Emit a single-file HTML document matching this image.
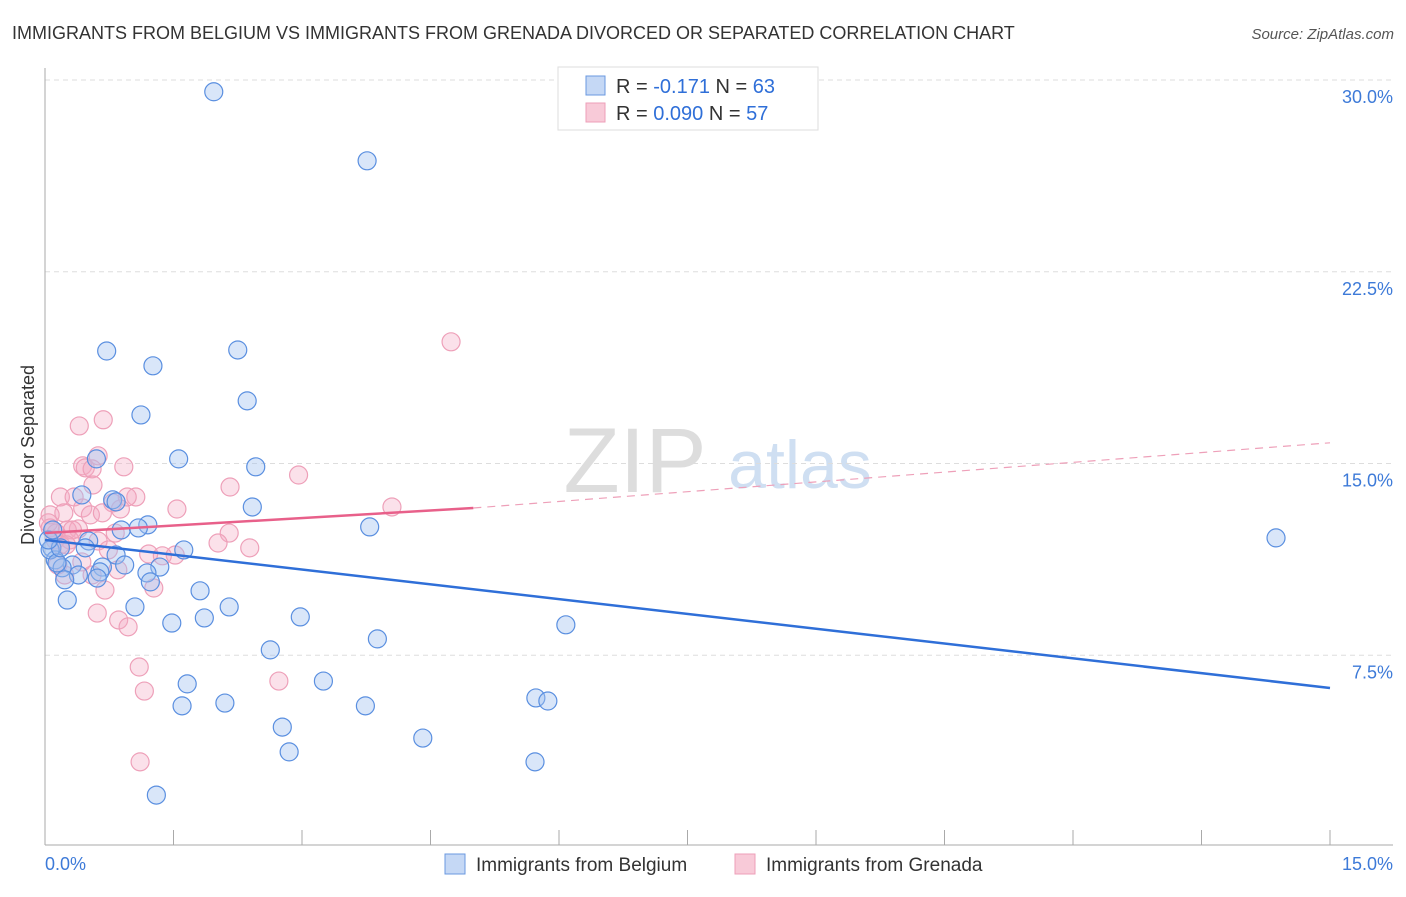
<!DOCTYPE html>
<html><head><meta charset="utf-8"><style>
body{margin:0;background:#fff;font-family:"Liberation Sans",sans-serif;}
svg text{font-family:"Liberation Sans",sans-serif;}
</style></head><body>
<svg id="chart" width="1406" height="892" xmlns="http://www.w3.org/2000/svg">
<text x="12" y="39" font-size="18" fill="#333">IMMIGRANTS FROM BELGIUM VS IMMIGRANTS FROM GRENADA DIVORCED OR SEPARATED CORRELATION CHART</text>
<text x="1394" y="39" font-size="15" fill="#555" font-style="italic" text-anchor="end">Source: ZipAtlas.com</text>
<g>
<text x="635" y="492" font-size="92" fill="#ddd" font-family="Liberation Serif" text-anchor="middle">ZIP</text>
<text x="800" y="488" font-size="68" fill="#cfdff2" text-anchor="middle">atlas</text></g>
<g id="grid"></g>
<g id="axes"></g>
<text transform="translate(34,455) rotate(-90)" font-size="18" fill="#333" text-anchor="middle">Divorced or Separated</text>
<g id="marks"></g>
<g>
<rect x="558" y="67" width="260" height="63" fill="#fff" stroke="#ddd"/>
<rect x="586" y="76" width="19" height="19" fill="#c5d8f5" stroke="#6a98e0"/>
<rect x="586" y="103" width="19" height="19" fill="#f8cad8" stroke="#ee9fb8"/>
<text x="616" y="93" font-size="20" fill="#333">R = <tspan fill="#2f6fd8">-0.171</tspan>   N = <tspan fill="#2f6fd8">63</tspan></text>
<text x="616" y="120" font-size="20" fill="#333">R = <tspan fill="#2f6fd8">0.090</tspan>   N = <tspan fill="#2f6fd8">57</tspan></text>
</g>
<g>
<rect x="445" y="854" width="20" height="20" fill="#c5d8f5" stroke="#6a98e0"/>
<text x="476" y="871" font-size="19" fill="#333">Immigrants from Belgium</text>
<rect x="735" y="854" width="20" height="20" fill="#f8cad8" stroke="#ee9fb8"/>
<text x="766" y="871" font-size="19" fill="#333">Immigrants from Grenada</text>
</g>
</svg>
<script>
const yTicks=[7.5,15,22.5,30];
const yTickLabels=["7.5%","15.0%","22.5%","30.0%"];
const xLabels=["0.0%","15.0%"];
const blueX=[1.97,3.76,0.72,2.25,1.26,2.36,1.12,1.56,0.60,2.46,0.43,0.79,0.83,2.42,1.20,0.89,1.09,3.79,14.37,0.51,0.47,1.62,0.08,0.83,0.12,0.93,0.32,0.67,1.34,0.20,0.39,0.64,0.23,1.19,1.23,0.61,1.81,0.26,1.05,2.15,1.86,2.98,1.48,6.08,3.88,2.63,1.66,3.25,1.60,2.10,5.73,5.87,3.74,2.77,4.41,2.85,5.72,1.30,0.06,0.14,0.18,0.04,0.09];
const blueY=[29.54,26.84,19.40,19.44,18.82,17.45,16.90,15.18,15.18,14.87,13.77,13.58,13.50,13.30,12.60,12.40,12.48,12.52,12.09,11.97,11.70,11.62,11.70,11.42,11.23,11.03,11.03,10.95,10.95,10.92,10.64,10.76,10.45,10.72,10.37,10.52,10.02,9.66,9.39,9.39,8.96,9.00,8.76,8.69,8.14,7.71,6.38,6.49,5.52,5.63,5.83,5.71,5.52,4.69,4.26,3.72,3.33,2.03,11.62,11.11,11.70,12.01,12.40];
const pinkX=[4.74,0.40,0.68,0.62,0.44,0.47,0.92,0.55,2.96,0.56,2.16,0.18,0.34,1.06,0.96,0.79,1.54,4.05,0.44,0.88,0.22,0.53,0.67,0.06,0.04,0.39,0.26,0.13,0.82,2.15,0.32,0.12,0.29,0.62,2.02,2.39,0.74,1.21,1.52,1.37,0.15,0.85,0.23,0.55,0.70,1.27,0.61,0.86,0.97,2.73,1.10,1.16,1.11,0.06,0.18,0.43,0.25];
const pinkY=[19.76,16.47,16.71,15.30,14.91,14.83,14.87,14.79,14.55,14.16,14.08,13.69,13.69,13.69,13.69,13.46,13.22,13.30,13.26,13.22,13.07,12.99,13.07,12.99,12.68,12.44,12.40,12.28,12.28,12.28,12.40,12.01,12.01,11.97,11.89,11.70,11.62,11.46,11.42,11.39,11.03,10.84,10.64,10.64,10.05,10.13,9.15,8.88,8.61,6.49,7.04,6.10,3.33,12.48,11.82,11.15,11.82];
const blueTrend=[12.01,6.22];
const pinkTrend=[12.28,13.26,15.81];
const X0=45,X1=1330,Y0=847,Y30=80;
const sx=v=>X0+(v/15)*(X1-X0);
const sy=v=>Y0-(v/30)*(Y0-Y30);
const NS="http://www.w3.org/2000/svg";
function mk(tag,attrs,parent){const e=document.createElementNS(NS,tag);for(const k in attrs)e.setAttribute(k,attrs[k]);parent.appendChild(e);return e;}
const grid=document.getElementById('grid'),axes=document.getElementById('axes'),marks=document.getElementById('marks');
yTicks.forEach((t,i)=>{
 const l=mk('line',{x1:45,x2:1393,y1:sy(t),y2:sy(t),stroke:'#ddd','stroke-dasharray':'5,4'},grid);
 
 
 const tx=mk('text',{x:1393,y:sy(t)+23,'font-size':18,fill:'#3d7ad8','text-anchor':'end'},axes);
 tx.textContent=yTickLabels[i];
 
 
});
mk('line',{x1:45,x2:45,y1:68,y2:845,stroke:'#aaa'},axes);
mk('line',{x1:45,x2:1393,y1:845,y2:845,stroke:'#aaa'},axes);
for(let i=0;i<=10;i++){const x=sx(i*1.5);const t=mk('line',{x1:x,x2:x,y1:830,y2:845,stroke:'#aaa'},axes);}
const xl0=mk('text',{x:45,y:870,'font-size':18,fill:'#3d7ad8'},axes);xl0.textContent=xLabels[0];


const xl1=mk('text',{x:1393,y:870,'font-size':18,fill:'#3d7ad8','text-anchor':'end'},axes);xl1.textContent=xLabels[1];


pinkX.forEach((v,i)=>{const c=mk('circle',{cx:sx(v),cy:sy(pinkY[i]),r:9,fill:'rgba(244,170,195,0.35)',stroke:'#eea0b9','stroke-width':1.2},marks);
 
 });
blueX.forEach((v,i)=>{const c=mk('circle',{cx:sx(v),cy:sy(blueY[i]),r:9,fill:'rgba(160,192,240,0.4)',stroke:'#5a8fe0','stroke-width':1.2},marks);
 
 });
const bl=mk('line',{x1:sx(0),y1:sy(blueTrend[0]),x2:sx(15),y2:sy(blueTrend[1]),stroke:'#2f6fd8','stroke-width':2.5},marks);


const pl=mk('line',{x1:sx(0),y1:sy(pinkTrend[0]),x2:sx(5),y2:sy(pinkTrend[1]),stroke:'#e8608a','stroke-width':2.5},marks);


const pd=mk('line',{x1:sx(5),y1:sy(pinkTrend[1]),x2:sx(15),y2:sy(pinkTrend[2]),stroke:'#eea0b9','stroke-width':1.2,'stroke-dasharray':'8,6'},marks);


</script>
</body></html>
